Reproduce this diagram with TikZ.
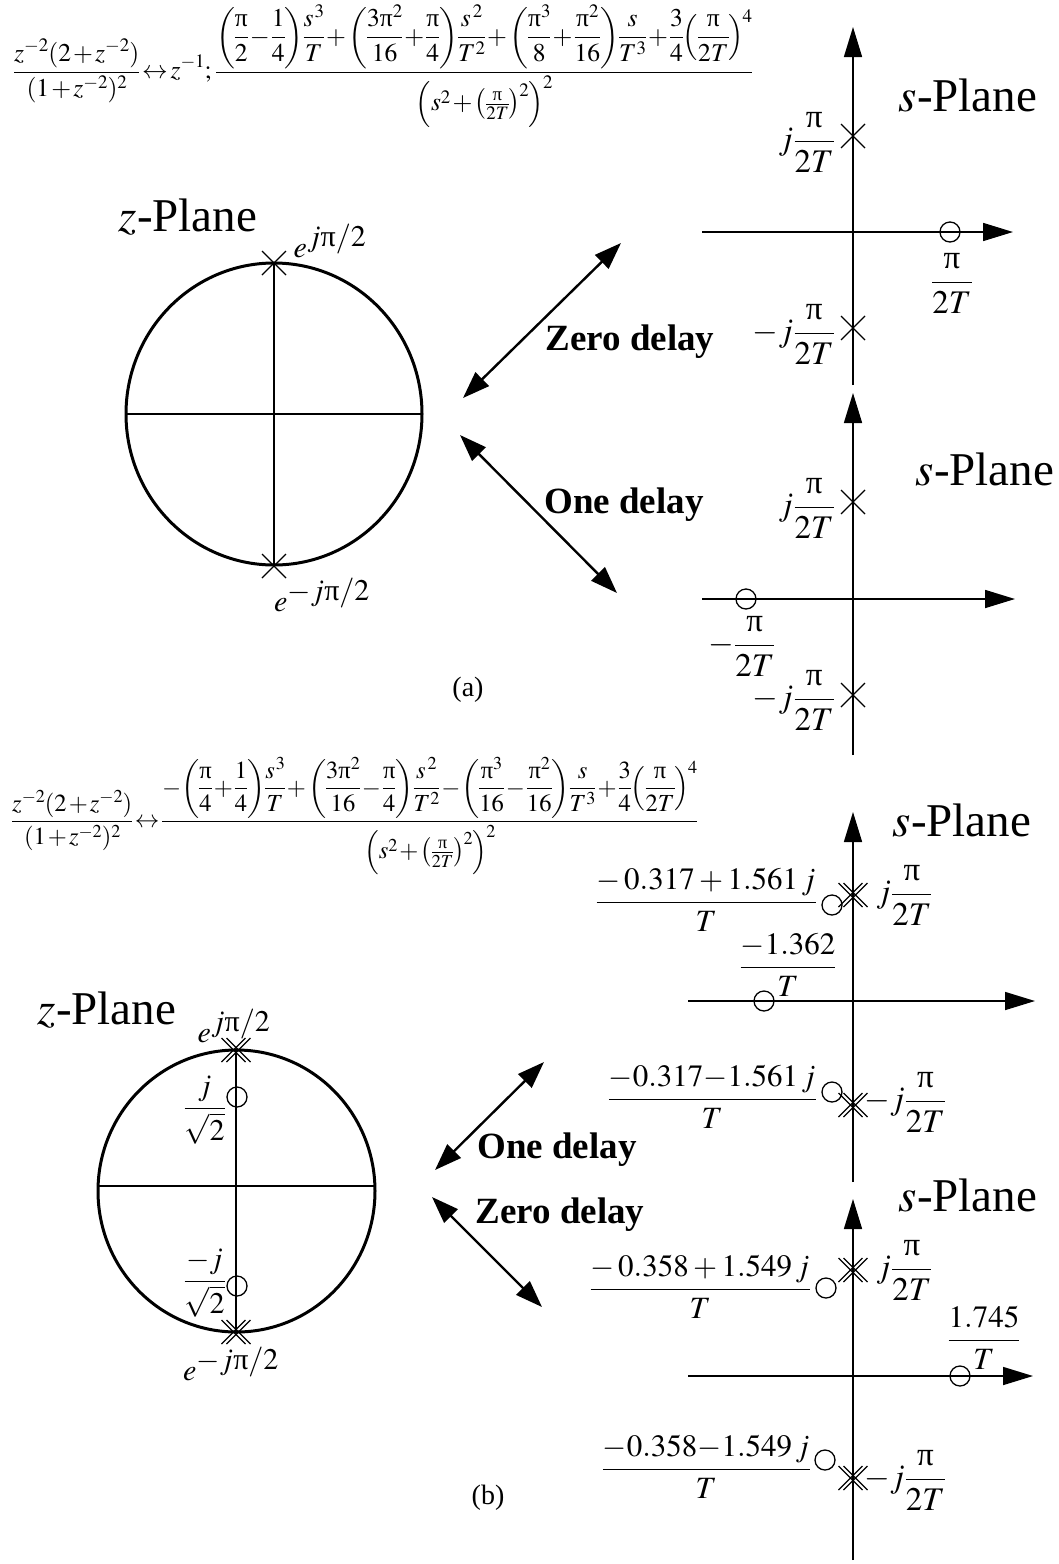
\documentclass[tikz,border=0pt]{standalone}
\usepackage{mathptmx}
\usepackage[no-math]{fontspec}
\setmainfont{Liberation Serif}
\usepackage{amsmath}
\usetikzlibrary{arrows.meta}
\newcommand{\upi}{\text{π}}
\newcommand{\tightmath}{\thinmuskip=1mu\medmuskip=1.5mu\thickmuskip=2mu\nulldelimiterspace=0pt\scriptspace=0pt}
\tikzset{
  axis/.style={line width=1.6pt,-{Triangle[length=30pt,width=18pt]}},
  dblarrow/.style={line width=2.4pt,{Triangle[length=27pt,width=19pt]}-{Triangle[length=27pt,width=19pt]}},
  unitc/.style={line width=3pt},
  thinax/.style={line width=1.5pt},
  thickax/.style={line width=2.6pt},
  lab/.style={font=\fontsize{33}{38}\selectfont,inner sep=0pt},
  numlab/.style={font=\fontsize{31}{36}\selectfont,inner sep=0pt},
  zlab/.style={font=\fontsize{30}{34}\selectfont,inner sep=0pt},
  ttl/.style={font=\fontsize{47}{52}\selectfont,inner sep=0pt},
  dl/.style={font=\fontsize{37}{42}\selectfont\bfseries,inner sep=0pt},
  subcap/.style={font=\fontsize{28}{32}\selectfont,inner sep=0pt},
  pole/.pic={\draw[line width=1.3pt] (-12,-12) -- (12,12) (-12,12) -- (12,-12);},
  dpole/.pic={\draw[line width=1.2pt] (-14.5,-12) -- (9.5,12) (-9.5,-12) -- (14.5,12)
      (-14.5,12) -- (9.5,-12) (-9.5,12) -- (14.5,-12);},
  zero/.pic={\draw[line width=1.3pt] (0,0) circle[radius=10pt];}
}
\begin{document}
\begin{tikzpicture}[x=1pt,y=-1pt]
\useasboundingbox (0,0) rectangle (1059,1564);
\fill[white] (0,0) rectangle (1059,1564);

% ---------------- (a) ----------------
\node[anchor=west,inner sep=0pt] (eqa) at (14,66) {\resizebox{738pt}{!}{\tightmath$\displaystyle
 \dfrac{z^{-2}(2+z^{-2})}{(1+z^{-2})^2}\leftrightarrow z^{-1};\;
 \dfrac{\left(\dfrac{\upi}{2}-\dfrac{1}{4}\right)\!\dfrac{s^{\,3}}{T}+\left(\dfrac{3\upi^2}{16}+\dfrac{\upi}{4}\right)\!\dfrac{s^{\;2}}{T^2}+\left(\dfrac{\upi^3}{8}+\dfrac{\upi^2}{16}\right)\!\dfrac{s}{T^3}+\dfrac{3}{4}\!\left(\dfrac{\upi}{2T}\right)^{\!4}}{\left(s^2+\left(\tfrac{\upi}{2T}\right)^{\!2}\right)^{\!2}}$}};

\node[ttl] (zpa) at (188,217) {$z$-Plane};
\draw[unitc] (274,414) ellipse[x radius=148pt,y radius=151pt];
\coordinate (ca) at (274,414);
\draw[thinax] (126,414) -- (422,414);
\draw[thinax] (274,263) -- (274,566);
\pic at (274,263) {pole};
\pic at (274,566) {pole};
\node[zlab] (epa) at (330,241) {$e^{\textstyle j\upi/2}$};
\node[zlab] (ema) at (322,595) {$e^{\textstyle -j\upi/2}$};

\coordinate (za1) at (463,398); \coordinate (za2) at (621,243);
\coordinate (oa1) at (460,435); \coordinate (oa2) at (617,593);
\draw[dblarrow] (za1) -- (za2);
\draw[dblarrow] (oa1) -- (oa2);
\node[dl] (zda) at (630,342) {Zero delay};
\node[dl] (oda) at (624,505) {One delay};

% s-plane a1
\coordinate (a1b) at (853,385); \coordinate (a1t) at (853,27);
\coordinate (a1l) at (702,232); \coordinate (a1r) at (1013,232);
\draw[axis] (a1b) -- (a1t);
\draw[axis] (a1l) -- (a1r);
\pic at (853,136) {pole};
\pic at (853,328) {pole};
\pic at (950,232) {zero};
\node[ttl] (spa1) at (968,95) {$s$-Plane};
\node[lab,anchor=east] (a1p) at (835,142) {$j\dfrac{\upi}{2T}$};
\node[lab] (a1z) at (952,283) {$\dfrac{\upi}{2T}$};
\node[lab,anchor=east] (a1m) at (835,334) {$-j\dfrac{\upi}{2T}$};

% s-plane a2
\coordinate (a2b) at (853,755); \coordinate (a2t) at (853,393);
\coordinate (a2l) at (702,599); \coordinate (a2r) at (1015,599);
\draw[axis] (a2b) -- (a2t);
\draw[axis] (a2l) -- (a2r);
\pic at (853,502) {pole};
\pic at (853,695) {pole};
\pic at (746,599) {zero};
\node[ttl] (spa2) at (985,469) {$s$-Plane};
\node[lab,anchor=east] (a2p) at (835,508) {$j\dfrac{\upi}{2T}$};
\node[lab] (a2z) at (742,646) {$-\dfrac{\upi}{2T}$};
\node[lab,anchor=east] (a2m) at (835,700) {$-j\dfrac{\upi}{2T}$};
\node[subcap] (capa) at (468,690) {(a)};

% ---------------- (b) ----------------
\node[anchor=west,inner sep=0pt] (eqb) at (12,816) {\resizebox{685pt}{!}{\tightmath$\displaystyle
 \dfrac{z^{-2}(2+z^{-2})}{(1+z^{-2})^2}\leftrightarrow
 \dfrac{-\!\left(\dfrac{\upi}{4}+\dfrac{1}{4}\right)\!\dfrac{s^{\,3}}{T}+\left(\dfrac{3\upi^2}{16}-\dfrac{\upi}{4}\right)\!\dfrac{s^{\;2}}{T^2}-\!\left(\dfrac{\upi^3}{16}-\dfrac{\upi^2}{16}\right)\!\dfrac{s}{T^3}+\dfrac{3}{4}\!\left(\dfrac{\upi}{2T}\right)^{\!4}}{\left(s^2+\left(\tfrac{\upi}{2T}\right)^{\!2}\right)^{\!2}}$}};

\node[ttl] (zpb) at (107,1010) {$z$-Plane};
\draw[unitc] (236.5,1191) ellipse[x radius=138.5pt,y radius=141pt];
\draw[thickax] (98,1186) -- (375,1186);
\draw[thickax] (236,1050) -- (236,1332);
\pic at (236,1050) {dpole};
\pic at (236,1332) {dpole};
\pic at (237,1097) {zero};
\pic at (237,1286) {zero};
\node[zlab] (epb) at (234,1026) {$e^{\textstyle j\upi/2}$};
\node[zlab] (emb) at (231,1364) {$e^{\textstyle -j\upi/2}$};
\node[zlab,anchor=east] (zpz) at (226,1110) {$\dfrac{j}{\sqrt{2}}$};
\node[zlab,anchor=east] (zmz) at (226,1283) {$\dfrac{-j}{\sqrt{2}}$};

\coordinate (ob1) at (435,1170); \coordinate (ob2) at (544,1062);
\coordinate (zb1) at (432,1197); \coordinate (zb2) at (542,1307);
\draw[dblarrow] (ob1) -- (ob2);
\draw[dblarrow] (zb1) -- (zb2);
\node[dl] (odb) at (557,1150) {One delay};
\node[dl] (zdb) at (560,1215) {Zero delay};

% s-plane b1
\coordinate (b1b) at (853,1182); \coordinate (b1t) at (853,812);
\coordinate (b1l) at (688,1001); \coordinate (b1r) at (1035,1001);
\draw[axis] (b1b) -- (b1t);
\draw[axis] (b1l) -- (b1r);
\pic at (853,895) {dpole};
\pic at (832,905) {zero};
\pic at (764,1001) {zero};
\pic at (853,1105) {dpole};
\pic at (832,1092) {zero};
\node[ttl] (spb1) at (962,820) {$s$-Plane};
\node[numlab,anchor=east] (b1zp) at (817,900) {$\dfrac{-\,0.317+1.561\,j}{T}$};
\node[lab,anchor=west] (b1pp) at (876,895) {$j\dfrac{\upi}{2T}$};
\node[numlab] (b1zr) at (788,965) {$\dfrac{-1.362}{T}$};
\node[numlab,anchor=east] (b1zm) at (817,1097) {$\dfrac{-0.317{-}1.561\,j}{T}$};
\node[lab,anchor=west] (b1pm) at (864,1102) {$-j\dfrac{\upi}{2T}$};

% s-plane b2
\coordinate (b2b) at (853,1560); \coordinate (b2t) at (853,1199);
\coordinate (b2l) at (688,1376); \coordinate (b2r) at (1033,1376);
\draw[axis] (b2b) -- (b2t);
\draw[axis] (b2l) -- (b2r);
\pic at (853,1270) {dpole};
\pic at (826,1288) {zero};
\pic at (960,1376) {zero};
\pic at (825,1460) {zero};
\pic at (853,1478) {dpole};
\node[ttl] (spb2) at (968,1195) {$s$-Plane};
\node[numlab,anchor=east] (b2zp) at (811,1287) {$\dfrac{-\,0.358+1.549\,j}{T}$};
\node[lab,anchor=west] (b2pp) at (876,1270) {$j\dfrac{\upi}{2T}$};
\node[numlab] (b2zr) at (984,1338) {$\dfrac{1.745}{T}$};
\node[numlab,anchor=east] (b2zm) at (811,1467) {$\dfrac{-0.358{-}1.549\,j}{T}$};
\node[lab,anchor=west] (b2pm) at (864,1480) {$-j\dfrac{\upi}{2T}$};
\node[subcap] (capb) at (488,1498) {(b)};
\end{tikzpicture}
\end{document}
